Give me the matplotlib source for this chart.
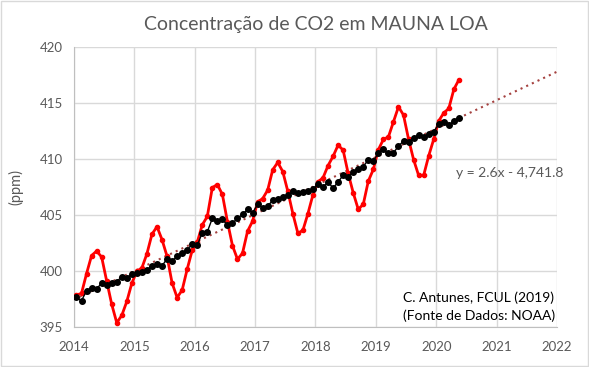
import numpy as np
import matplotlib
matplotlib.use("Agg")
import matplotlib.pyplot as plt
from matplotlib.patches import Rectangle

plt.rcParams['font.family'] = ['Lato', 'DejaVu Sans']

# monthly means, Jan 2014 .. May 2020 (ppm)
co2_monthly = [
    397.85, 398.01, 399.77, 401.38, 401.78, 401.25, 399.10, 397.03, 395.38, 396.03, 397.28, 398.91,
    399.98, 400.28, 401.54, 403.28, 403.96, 402.80, 401.31, 398.93, 397.63, 398.29, 400.16, 401.85,
    402.56, 404.12, 404.87, 407.45, 407.72, 406.83, 404.41, 402.27, 401.05, 401.59, 403.55, 404.45,
    406.17, 406.46, 407.22, 409.04, 409.69, 408.88, 407.12, 405.13, 403.37, 403.63, 405.12, 406.81,
    407.96, 408.32, 409.41, 410.24, 411.24, 410.79, 408.71, 406.99, 405.51, 405.95, 408.02, 409.07,
    410.83, 411.75, 411.97, 413.32, 414.66, 413.92, 411.77, 409.95, 408.54, 408.53, 410.27, 411.76,
    413.40, 414.11, 414.51, 416.21, 417.07,
]
# deseasonalized values (ppm)
co2_deseason = [
    397.65, 397.35, 398.24, 398.48, 398.37, 398.96, 398.78, 398.96, 399.05, 399.49, 399.40, 399.70,
    399.80, 399.90, 400.10, 400.45, 400.60, 400.45, 401.10, 400.90, 401.30, 401.60, 401.90, 402.40,
    402.30, 403.40, 403.50, 404.70, 404.50, 404.60, 404.10, 404.25, 404.70, 405.05, 405.50, 405.20,
    405.95, 405.65, 405.80, 406.30, 406.40, 406.60, 406.75, 407.10, 407.00, 407.05, 407.10, 407.30,
    407.78, 407.50, 407.95, 407.40, 407.95, 408.55, 408.40, 408.85, 409.10, 409.30, 409.95, 409.80,
    410.55, 410.85, 410.50, 410.55, 411.15, 411.60, 411.50, 411.85, 412.15, 411.95, 412.20, 412.45,
    413.10, 413.30, 413.00, 413.40, 413.70,
]
start_year = 2014
n_months = len(co2_monthly)
dates = start_year + (np.arange(n_months) + 0.5) / 12.0

x_ticks = list(range(2014, 2023))
y_ticks = [395, 400, 405, 410, 415, 420]

title = "Concentração de CO2 em MAUNA LOA"
ylabel = "(ppm)"
eq_text = "y = 2.6x - 4,741.8"
credit = "C. Antunes, FCUL (2019)\n(Fonte de Dados: NOAA)"

grey = '#595959'
gridc = '#D9D9D9'

fig = plt.figure(figsize=(5.89, 3.67), dpi=100)
ax = fig.add_axes([0.1256, 0.109, 0.82, 0.763])

# linear trend of the deseasonalized series, extended to 2022
coef = np.polyfit(dates, co2_deseason, 1)
xt = np.array([2014, 2022])
ax.plot(xt, np.polyval(coef, xt), color='#A5413F', lw=1.5, ls=(0, (1, 2)), zorder=2)

ax.plot(dates, co2_monthly, color='#FF0000', lw=2, marker='o', ms=3, zorder=3)
ax.plot(dates, co2_deseason, color='black', lw=1, marker='o', ms=4, zorder=4)

ax.set_xlim(2014, 2022)
ax.set_ylim(395, 420)
ax.set_xticks(x_ticks)
ax.set_yticks(y_ticks)
ax.grid(True, color=gridc, lw=1)
ax.set_axisbelow(True)
for s in ['top', 'right']:
    ax.spines[s].set_visible(False)
for s in ['left', 'bottom']:
    ax.spines[s].set_color('#BFBFBF')
ax.tick_params(length=0, labelsize=9.5, labelcolor=grey)
ax.tick_params(axis='y', pad=8)
ax.tick_params(axis='x', pad=10)

ax.set_title(title, fontsize=14, color=grey, pad=12)
ax.set_ylabel(ylabel, fontsize=10.5, color=grey, labelpad=12)

ax.text(2020.33, 408.75, eq_text, fontsize=10, color=grey, va='center', ha='left')
ax.text(2019.45, 396.8, credit, fontsize=10, color='black', va='center', ha='left',
        linespacing=1.5)

fig.patches.append(Rectangle((0.001, 0.002), 0.997, 0.995, transform=fig.transFigure,
                             fill=False, edgecolor=gridc, lw=1))

fig.savefig('out.png', dpi=100)
